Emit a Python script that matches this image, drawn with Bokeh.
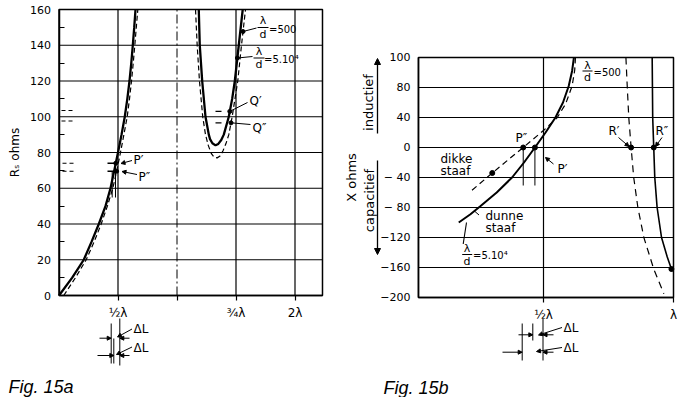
import numpy as np
from math import pi
from bokeh.plotting import figure
from bokeh.layouts import row
from bokeh.models import FixedTicker, Label, Arrow, NormalHead, Range1d
from bokeh.embed import file_html
from bokeh.resources import INLINE

FONT = "DejaVu Sans"

# ---------------- Fig. 15a data ----------------
a_x_ticks = [1, 2, 3, 4]
a_x_labels = ["½λ", "", "¾λ", "2λ"]
a_y_ticks = [0, 20, 40, 60, 80, 100, 120, 140, 160]
a_y_minor = [10, 30, 50, 70, 90, 110, 130, 150]
a_x_max = 4.466

# first branch (rises near 1/2 lambda)
a_thin_r = [0, 10, 20, 30, 40, 50, 60, 70, 80, 90, 100, 110, 120, 130, 140, 150, 160]
a_thin_x = [0.0, 0.224, 0.420, 0.551, 0.675, 0.788, 0.873, 0.937, 1.0, 1.06, 1.115, 1.158, 1.195, 1.225, 1.251, 1.275, 1.297]
a_thick_r = [0, 10, 20, 30, 40, 50, 60, 70, 80, 90, 100, 110, 120, 130, 140, 150, 160]
a_thick_x = [0.08, 0.28, 0.461, 0.595, 0.715, 0.82, 0.912, 0.98, 1.042, 1.10, 1.156, 1.195, 1.229, 1.258, 1.285, 1.31, 1.336]

# U-shaped branch near 3/4 lambda
u_thin_x = [2.369, 2.386, 2.427, 2.483, 2.539, 2.56, 2.60, 2.653, 2.70, 2.75, 2.793, 2.878, 2.935, 2.980, 3.047, 3.114]
u_thin_r = [160, 140, 120, 100, 90, 87.5, 85.2, 84, 84.8, 87, 90, 100, 110, 120, 140, 160]
u_thick_x = [2.314, 2.342, 2.381, 2.436, 2.483, 2.53, 2.58, 2.63, 2.68, 2.73, 2.78, 2.83, 2.878, 2.935, 3.03, 3.093, 3.161]
u_thick_r = [160, 140, 120, 100, 90, 84, 79.5, 77.3, 77, 78, 81, 85, 90, 100, 120, 140, 160]

a_p1_r = 74     # P'
a_p2_r = 69.5   # P''
a_q1_r = 103    # Q'
a_q2_r = 96.6   # Q''

# ---------------- Fig. 15b data ----------------
b_x_ticks = [0.5, 1]
b_x_labels = ["½λ", "λ"]
b_y_ticks = [-200, -160, -120, -80, -40, 0, 40, 80, 120]
b_y_labels = ["−200", "−160", "−120", "− 80", "− 40", "0", "40", "80", "100"]
b_x_min = 0.019

b_thin_x = [0.174, 0.219, 0.258, 0.320, 0.379, 0.425, 0.467, 0.508, 0.546, 0.575, 0.597, 0.610, 0.617]
b_thin_X = [-100, -89, -78, -60, -40, -20, 0, 20, 40, 60, 82, 102, 120]
b_thick_x = [0.225, 0.303, 0.362, 0.422, 0.501, 0.553, 0.585, 0.610, 0.620, 0.623]
b_thick_X = [-57, -34, -17, 0, 23, 40, 58, 82, 103, 120]
b_r1_x = [0.817, 0.822, 0.828, 0.837, 0.847, 0.863, 0.886, 0.924, 0.963]
b_r1_X = [120, 82, 40, 0, -40, -80, -120, -162, -195]
b_r2_x = [0.918, 0.920, 0.924, 0.928, 0.937, 0.954, 0.976, 0.995]
b_r2_X = [120, 40, 0, -40, -80, -120, -146, -165]
b_dikke_X = -34
b_end_X = -162

# page geometry (reference pixels -> data units)
W_A, W_B, H = 345, 346, 397


def LX(px):
    return (px - 58.5) / 59.0


def LY(py):
    return (295.0 - py) / 1.7875


def RX(px):
    return 0.5 + (px - 543.0) / 260.0


def RY(py):
    return (147.0 - py) / 0.75


def x_at(xs, ys, yv):
    xs = np.asarray(xs, float)
    ys = np.asarray(ys, float)
    o = np.argsort(ys)
    return float(np.interp(yv, ys[o], xs[o]))


def lab(p, text, x, y, size=12, align="left", baseline="middle", angle=0.0,
        font=FONT, style="normal"):
    p.add_layout(Label(x=x, y=y, text=text, text_font=font, text_font_size=f"{size}px",
                       text_align=align, text_baseline=baseline, angle=angle,
                       text_font_style=style, text_color="black"))


def arr(p, x0, y0, x1, y1, head=True, size=5, lw=1.0):
    end = NormalHead(size=size, fill_color="black", line_color="black", line_width=1) if head else None
    p.add_layout(Arrow(end=end, x_start=x0, y_start=y0, x_end=x1, y_end=y1,
                       line_color="black", line_width=lw))


def base_fig(w, xr, yr):
    p = figure(width=w, height=H, output_backend="svg", toolbar_location=None,
               x_range=Range1d(*xr), y_range=Range1d(*yr),
               min_border=0, min_border_left=0, min_border_right=0,
               min_border_top=0, min_border_bottom=0)
    p.outline_line_color = None
    p.background_fill_color = "white"
    p.border_fill_color = "white"
    p.grid.visible = False
    for ax in (p.xaxis[0], p.yaxis[0]):
        ax.axis_line_color = "black"
        ax.axis_line_width = 1.5
        ax.major_tick_line_color = "black"
        ax.major_tick_line_width = 1.2
        ax.minor_tick_line_color = "black"
        ax.minor_tick_line_width = 1.2
        ax.major_label_text_font = FONT
        ax.major_label_text_color = "black"
        ax.axis_label_text_font = FONT
        ax.axis_label_text_font_style = "normal"
        ax.axis_label_text_color = "black"
        ax.major_tick_in = 0
        ax.minor_tick_out = 0
        ax.minor_tick_in = 0
    return p


# ================= Fig. 15a =================
pa = base_fig(W_A, (LX(0), LX(W_A)), (LY(H), LY(0)))
pa.xaxis.fixed_location = 0
pa.xaxis.bounds = (0, a_x_max)
pa.xaxis.ticker = FixedTicker(ticks=a_x_ticks)
pa.xaxis.major_label_overrides = dict(zip(a_x_ticks, a_x_labels))
pa.xaxis.major_tick_out = 5
pa.xaxis.major_label_standoff = 5
pa.xaxis.major_label_text_font_size = "12px"
pa.yaxis.fixed_location = 0
pa.yaxis.bounds = (0, 160)
pa.yaxis.ticker = FixedTicker(ticks=a_y_ticks, minor_ticks=a_y_minor)
pa.yaxis.major_tick_out = 0
pa.yaxis.minor_tick_in = 5
pa.yaxis.major_label_standoff = 8
pa.yaxis.major_label_text_font_size = "11px"
pa.yaxis.axis_label = "Rₛ ohms"
pa.yaxis.axis_label_text_font_size = "12px"
pa.yaxis.axis_label_standoff = 6

# frame and grid
pa.quad(left=[0], right=[a_x_max], bottom=[0], top=[160], fill_color=None,
        line_color="black", line_width=1.5)
a_gx = [1, 3, 4]
pa.segment(x0=a_gx, y0=[0] * 3, x1=a_gx, y1=[160] * 3, line_color="black", line_width=1.2)
a_gy = a_y_ticks[1:-1]
pa.segment(x0=[0] * len(a_gy), y0=a_gy, x1=[a_x_max] * len(a_gy), y1=a_gy,
           line_color="black", line_width=1.2)
pa.segment(x0=[2], y0=[0], x1=[2], y1=[160], line_color="black", line_width=1.0,
           line_dash="9 3 2 3")

pa.line(a_thin_x, a_thin_r, line_color="black", line_width=2.3)
pa.line(a_thick_x, a_thick_r, line_color="black", line_width=1.2, line_dash="5 3")
pa.line(u_thin_x, u_thin_r, line_color="black", line_width=2.3)
pa.line(u_thick_x, u_thick_r, line_color="black", line_width=1.2, line_dash="5 3")

# marked points
p1x = x_at(a_thin_x, a_thin_r, a_p1_r)
p2x = x_at(a_thick_x, a_thick_r, a_p2_r)
uthin_right = (u_thin_x[7:], u_thin_r[7:])
uthick_right = (u_thick_x[8:], u_thick_r[8:])
q1x = x_at(*uthin_right, a_q1_r)
q2x = x_at(*uthick_right, a_q2_r)
l500_r = LY(31)
l500_x = x_at(*uthick_right, l500_r)
l54_r = LY(57.5)
l54_x = x_at(*uthin_right, l54_r)
pa.scatter([p1x, p2x, q1x, q2x, l500_x, l54_x], [a_p1_r, a_p2_r, a_q1_r, a_q2_r, l500_r, l54_r],
           size=4, color="black")

# reading dashes near the left axis and inside the U
pa.segment(x0=[LX(61), LX(61), LX(62), LX(62)], y0=[a_q1_r + 0.5, a_q2_r + 1, a_p1_r, a_p2_r],
           x1=[LX(73), LX(73), LX(74), LX(74)], y1=[a_q1_r + 0.5, a_q2_r + 1, a_p1_r, a_p2_r],
           line_color="black", line_width=1.1, line_dash="4 3")
pa.segment(x0=[LX(215), LX(215)], y0=[a_q1_r, a_q2_r], x1=[LX(221), LX(221)], y1=[a_q1_r, a_q2_r],
           line_color="black", line_width=1.1)
# short bars through P points and drop lines
pa.segment(x0=[LX(107), LX(107)], y0=[a_p1_r, a_p2_r], x1=[LX(115), LX(115)], y1=[a_p1_r, a_p2_r],
           line_color="black", line_width=1.3)
pa.segment(x0=[LX(111.7), LX(115)], y0=[a_p2_r, a_p1_r], x1=[LX(111.7), LX(115)], y1=[LY(197), LY(197)],
           line_color="black", line_width=1.0)

# fraction labels
pa.segment(x0=[LX(257), LX(253)], y0=[LY(27), LY(57.5)], x1=[LX(268), LX(264)], y1=[LY(27), LY(57.5)],
           line_color="black", line_width=1.2)
lab(pa, "λ", LX(262.5), LY(20), size=11, align="center")
lab(pa, "d", LX(262.5), LY(33.5), size=11, align="center")
lab(pa, "=500", LX(268.5), LY(28.5), size=10)
lab(pa, "λ", LX(258.5), LY(51), size=11, align="center")
lab(pa, "d", LX(258.5), LY(64), size=11, align="center")
lab(pa, "=5.10⁴", LX(263.5), LY(58.5), size=10)
pa.segment(x0=[LX(256), LX(252)], y0=[LY(27.5), LY(56)], x1=[l500_x, l54_x], y1=[l500_r, l54_r],
           line_color="black", line_width=1.0)

# Q labels
lab(pa, "Q′", LX(249), LY(100), size=12)
lab(pa, "Q″", LX(252), LY(127), size=12)
pa.segment(x0=[LX(247), LX(250)], y0=[LY(102), LY(124)], x1=[q1x, q2x], y1=[a_q1_r, a_q2_r],
           line_color="black", line_width=1.0)

# P labels
lab(pa, "P′", LX(133), LY(159.5), size=12)
lab(pa, "P″", LX(138), LY(176), size=12)
arr(pa, LX(131.5), LY(160), LX(120.5), LY(163), size=4)
arr(pa, LX(136.5), LY(174), LX(121.5), LY(171), size=4)

# Delta L dimensioning below the axis
dl_x = [LX(110.7), LX(113.3), LX(119.3)]
pa.segment(x0=dl_x, y0=[LY(323), LY(338), LY(318)], x1=dl_x, y1=[LY(363), LY(363), LY(365)],
           line_color="black", line_width=1.0)
arr(pa, LX(99), LY(337.7), LX(110.7), LY(337.7), size=4)
arr(pa, LX(129), LY(337.7), LX(119.3), LY(337.7), size=4)
arr(pa, LX(97), LY(355), LX(113.3), LY(355), size=4)
arr(pa, LX(129), LY(355), LX(119.3), LY(355), size=4)
arr(pa, LX(131.5), LY(328.5), LX(117), LY(336.5), size=4)
arr(pa, LX(131.5), LY(346.5), LX(116), LY(354), size=4)
lab(pa, "ΔL", LX(133), LY(328), size=12)
lab(pa, "ΔL", LX(133), LY(347), size=12)

lab(pa, "Fig. 15a", LX(8), LY(386), size=18, baseline="alphabetic",
    font="Liberation Sans", style="italic")

# ================= Fig. 15b =================
pb = base_fig(W_B, (RX(W_A), RX(W_A + W_B)), (RY(H), RY(0)))
pb.xaxis.fixed_location = -200
pb.xaxis.bounds = (b_x_min, 1.0)
pb.xaxis.ticker = FixedTicker(ticks=b_x_ticks)
pb.xaxis.major_label_overrides = dict(zip(b_x_ticks, b_x_labels))
pb.xaxis.major_tick_out = 5
pb.xaxis.major_label_standoff = 5
pb.xaxis.major_label_text_font_size = "12px"
pb.yaxis.fixed_location = b_x_min
pb.yaxis.bounds = (-200, 120)
pb.yaxis.ticker = FixedTicker(ticks=b_y_ticks)
pb.yaxis.major_label_overrides = dict(zip(b_y_ticks, b_y_labels))
pb.yaxis.major_tick_out = 0
pb.yaxis.major_label_standoff = 8
pb.yaxis.major_label_text_font_size = "11px"
pb.yaxis.axis_label = "X ohms"
pb.yaxis.axis_label_text_font_size = "13px"
pb.yaxis.axis_label_standoff = 18

pb.quad(left=[b_x_min], right=[1.0], bottom=[-200], top=[120], fill_color=None,
        line_color="black", line_width=1.5)
pb.segment(x0=[0.5], y0=[-200], x1=[0.5], y1=[120], line_color="black", line_width=1.2)
b_gy = b_y_ticks[1:-1]
pb.segment(x0=[b_x_min] * len(b_gy), y0=b_gy, x1=[1.0] * len(b_gy), y1=b_gy,
           line_color="black", line_width=1.2)

pb.line(b_thin_x, b_thin_X, line_color="black", line_width=2.0)
pb.line(b_thick_x, b_thick_X, line_color="black", line_width=1.2, line_dash="6 4")
pb.line(b_r1_x, b_r1_X, line_color="black", line_width=1.2, line_dash="7 5")
pb.line(b_r2_x, b_r2_X, line_color="black", line_width=1.6)

pp2 = x_at(b_thick_x, b_thick_X, 0)
pp1 = x_at(b_thin_x, b_thin_X, 0)
rr1 = x_at(b_r1_x, b_r1_X, 0)
rr2 = x_at(b_r2_x, b_r2_X, 0)
dk = x_at(b_thick_x, b_thick_X, b_dikke_X)
ee = x_at(b_r2_x, b_r2_X, b_end_X)
pb.scatter([pp2, pp1, rr1, rr2, dk, ee], [0, 0, 0, 0, b_dikke_X, b_end_X], size=5, color="black")
pb.segment(x0=[pp2, pp1], y0=[0, 0], x1=[pp2, pp1], y1=[RY(185), RY(185)],
           line_color="black", line_width=1.0)

lab(pb, "P″", RX(515), RY(137.5), size=12)
lab(pb, "P′", RX(557), RY(168.5), size=12)
arr(pb, RX(553), RY(163.5), RX(545), RY(157), size=4)
lab(pb, "R′", RX(608), RY(130), size=12)
arr(pb, RX(618), RY(137), RX(628.5), RY(146), size=4)
lab(pb, "R″", RX(655), RY(130), size=12)
arr(pb, RX(661.5), RY(137), RX(655), RY(146), size=4)

lab(pb, "dikke", RX(440), RY(158.5), size=12)
lab(pb, "staaf", RX(440), RY(170), size=12)
lab(pb, "dunne", RX(485), RY(215), size=12)
lab(pb, "staaf", RX(485), RY(227.5), size=12)
pb.segment(x0=[RX(473.7)], y0=[RY(210.3)], x1=[RX(478.5)], y1=[RY(214.5)],
           line_color="black", line_width=1.0)

pb.segment(x0=[RX(582), RX(461.7), RX(466)], y0=[RY(70.5), RY(254), RY(222)],
           x1=[RX(592), RX(471.7), RX(462.7)], y1=[RY(70.5), RY(254), RY(243.5)],
           line_color="black", line_width=1.1)
lab(pb, "λ", RX(587), RY(64.5), size=11, align="center")
lab(pb, "d", RX(587), RY(77), size=11, align="center")
lab(pb, "=500", RX(593), RY(72), size=10)
lab(pb, "λ", RX(466.5), RY(248), size=11, align="center")
lab(pb, "d", RX(466.5), RY(260.5), size=11, align="center")
lab(pb, "=5.10⁴", RX(472.5), RY(255), size=10)

# inductief / capacitief
lab(pb, "inductief", RX(368), RY(102), size=13, align="center", angle=pi / 2)
lab(pb, "capacitief", RX(369), RY(200), size=13, align="center", angle=pi / 2)
arr(pb, RX(377), RY(133), RX(377), RY(58), size=6, lw=1.3)
arr(pb, RX(377), RY(160), RX(377), RY(254), size=6, lw=1.3)

# Delta L dimensioning below the axis
dl_xb = [RX(521.7), RX(532.3), RX(542.5)]
pb.segment(x0=dl_xb, y0=[RY(323), RY(323), RY(318)], x1=dl_xb, y1=[RY(360), RY(340), RY(360)],
           line_color="black", line_width=1.0)
arr(pb, RX(518), RY(334.3), RX(532.3), RY(334.3), size=4)
arr(pb, RX(553), RY(334.3), RX(542.5), RY(334.3), size=4)
arr(pb, RX(502), RY(351.7), RX(521.7), RY(351.7), size=4)
arr(pb, RX(553), RY(351.7), RX(542.5), RY(351.7), size=4)
arr(pb, RX(561.5), RY(327), RX(538), RY(334.5), size=4)
arr(pb, RX(561.5), RY(347), RX(536), RY(351), size=4)
lab(pb, "ΔL", RX(563), RY(327), size=12)
lab(pb, "ΔL", RX(563), RY(347), size=12)

lab(pb, "Fig. 15b", RX(383), RY(387), size=18, baseline="alphabetic",
    font="Liberation Sans", style="italic")

layout = row(pa, pb)
open("out.html", "w").write(file_html(layout, INLINE))
